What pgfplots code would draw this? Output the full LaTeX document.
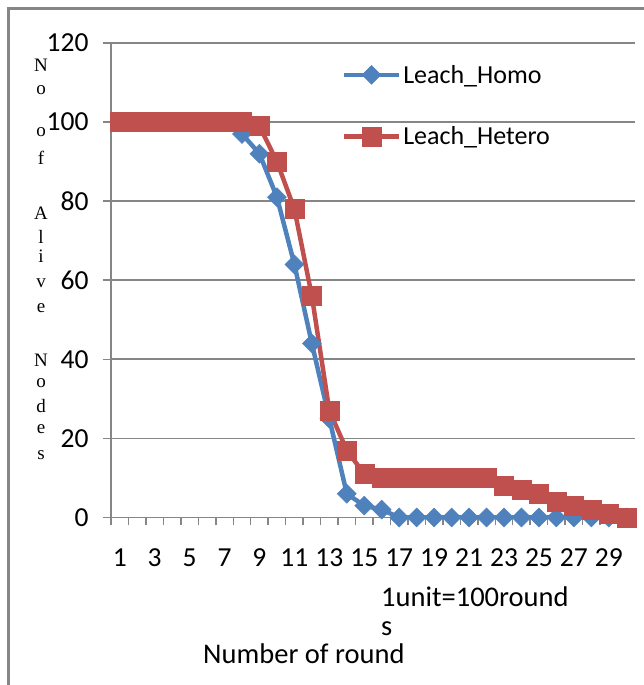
\documentclass[border=0pt]{standalone}
\usepackage{pgfplots}
\pgfplotsset{compat=1.18}
\usepackage{fontspec}
\setmainfont{Carlito}
\newfontfamily\seriffont{Liberation Serif}
\definecolor{homo}{RGB}{79,129,189}
\definecolor{hetero}{RGB}{192,80,77}
\definecolor{axgray}{RGB}{134,134,134}
\begin{document}
\begin{tikzpicture}[x=1pt,y=1pt]
\path[use as bounding box] (0,0) rectangle (644,685);
\draw[axgray, line width=2.5pt] (8.5,0) -- (8.5,676.5) -- (644,676.5);
\begin{axis}[
  at={(111pt,167.5pt)}, anchor=south west,
  scale only axis, width=524pt, height=474.5pt,
  xmin=0.5, xmax=30.5, ymin=0, ymax=120,
  axis lines*=left,
  axis line style={axgray, line width=1.8pt},
  ytick={0,20,...,120},
  ymajorgrids, grid style={axgray, line width=1.8pt},
  xtick={0.5,1.5,...,30.5}, xticklabels={},
  extra x ticks={1,3,5,7,9,11,13,15,17,19,21,23,25,27,29},
  extra x tick labels={1,3,5,7,9,11,13,15,17,19,21,23,25,27,29},
  extra x tick style={grid=none, tick style={draw=none}},
  tick align=outside, major tick length=8pt,
  tick style={axgray, line width=1.5pt},
  ticklabel style={font=\fontsize{27.5}{30}\selectfont},
  yticklabel style={xshift=-11pt},
  xticklabel style={yshift=-20pt},
  /pgf/number format/assume math mode=true,
  legend style={at={(axis description cs:0.440,0.958)}, anchor=north west,
    draw=none, fill=none, inner sep=0pt, row sep=38pt,
    font=\fontsize{26}{30}\selectfont},
  legend cell align=left,
  legend image code/.code={\draw[#1, mark repeat=2, mark phase=2] plot coordinates {(0pt,0pt) (27.5pt,0pt) (55pt,0pt)};},
]
\addplot[color=homo, line width=4.5pt, mark=square*, mark size=6.7pt,
  mark options={solid, rotate=45, line width=0.5pt, fill=homo}]
  coordinates {
  (1,100) (2,100) (3,100) (4,100) (5,100) (6,100) (7,100) (8,97) (9,92) (10,81)
  (11,64) (12,44) (13,25) (14,6) (15,3) (16,2) (17,0) (18,0) (19,0) (20,0)
  (21,0) (22,0) (23,0) (24,0) (25,0) (26,0) (27,0) (28,0) (29,0) (30,0)};
\addlegendentry{Leach\_Homo}
\addplot[color=hetero, line width=4.5pt, mark=square*, mark size=9.5pt,
  mark options={solid, line width=0.5pt, fill=hetero}]
  coordinates {
  (1,100) (2,100) (3,100) (4,100) (5,100) (6,100) (7,100) (8,100) (9,99) (10,90)
  (11,78) (12,56) (13,27) (14,17) (15,11) (16,10) (17,10) (18,10) (19,10) (20,10)
  (21,10) (22,10) (23,8) (24,7) (25,6) (26,4) (27,3) (28,2) (29,1) (30,0)};
\addlegendentry{Leach\_Hetero}
\end{axis}
\begin{scope}[font=\fontsize{28.5}{30}\selectfont]
\node[anchor=base west, inner sep=0] at (381,685-607) {1unit=100round};
\node[anchor=base west, inner sep=0] at (381,685-636) {s};
\node[anchor=base west, inner sep=0] at (203,685-664) {Number of round};
\end{scope}
\foreach \ch/\yy in {N/72,o/95,o/137,f/165,A/220,l/244,i/263,v/288,e/313,N/367,o/388,d/413,e/434,s/460}
  \node[anchor=base, inner sep=0, font=\seriffont\fontsize{19}{22}\selectfont] at (41,685-\yy) {\ch};
\end{tikzpicture}
\end{document}
